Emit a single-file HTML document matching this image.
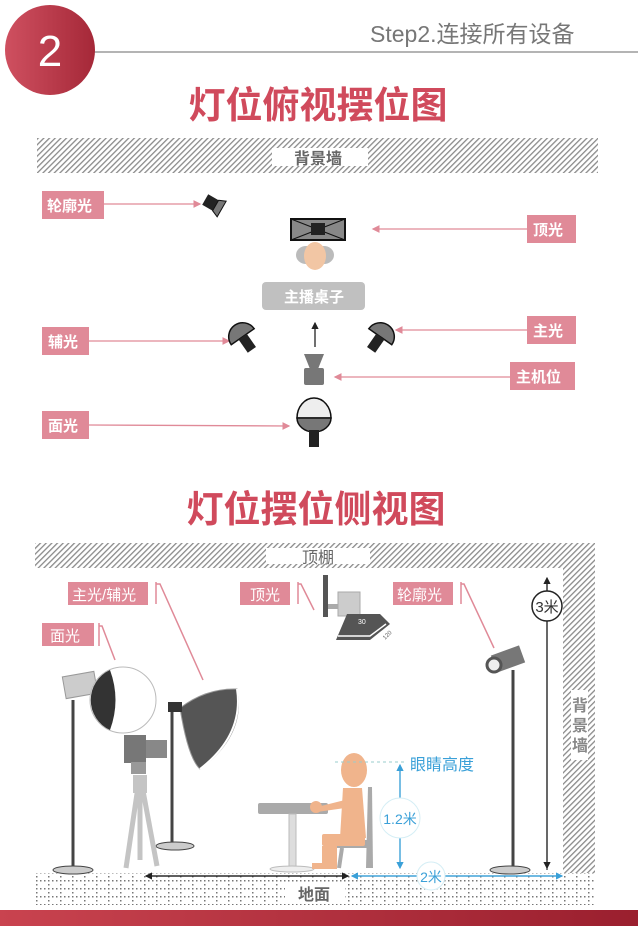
<!DOCTYPE html>
<html><head><meta charset="utf-8"><style>
html,body{margin:0;padding:0;background:#fff;}
svg{display:block;}
text{font-family:"Liberation Sans","Noto Sans CJK SC",sans-serif;}
</style></head><body>
<svg width="638" height="926" viewBox="0 0 638 926" xmlns="http://www.w3.org/2000/svg">
<defs>
<pattern id="h" width="4" height="4" patternUnits="userSpaceOnUse" patternTransform="rotate(45)">
<rect width="4" height="4" fill="#fff"/><rect width="1.3" height="4" fill="#8a8a8a"/></pattern>
<pattern id="g" width="12" height="8" patternUnits="userSpaceOnUse">
<rect width="12" height="8" fill="#fff"/><rect x="0" y="0" width="1.5" height="1.5" fill="#777"/><rect x="4" y="0" width="1.5" height="1.5" fill="#777"/><rect x="8" y="0" width="1.5" height="1.5" fill="#777"/><rect x="0" y="4" width="1.5" height="1.5" fill="#777"/></pattern>
<linearGradient id="rc" x1="0" x2="1"><stop offset="0" stop-color="#cf5060"/><stop offset="1" stop-color="#a52838"/></linearGradient>
<linearGradient id="bar" x1="0" x2="1"><stop offset="0" stop-color="#c9434f"/><stop offset="1" stop-color="#9a1f2e"/></linearGradient>
<marker id="ap" markerWidth="6" markerHeight="6" refX="5" refY="3" orient="auto"><path d="M0,0 L6,3 L0,6z" fill="#e08a98"/></marker>
<marker id="ak" markerWidth="6" markerHeight="6" refX="5" refY="3" orient="auto"><path d="M0,0 L6,3 L0,6z" fill="#222"/></marker>
<marker id="ab" markerWidth="6" markerHeight="6" refX="5" refY="3" orient="auto"><path d="M0,0 L6,3 L0,6z" fill="#3aa0d8"/></marker>
</defs>

<line x1="92" y1="52" x2="638" y2="52" stroke="#888" stroke-width="1.2"/>
<circle cx="50" cy="50" r="45" fill="url(#rc)"/>
<text x="50" y="66" font-size="44" fill="#fff" text-anchor="middle">2</text>
<text x="370" y="42" font-size="23" fill="#777">Step2.连接所有设备</text>
<text x="318" y="118" font-size="37" font-weight="bold" fill="#d04a5c" text-anchor="middle">灯位俯视摆位图</text>

<rect x="37" y="138" width="561" height="35" fill="url(#h)"/>
<rect x="272" y="148" width="96" height="18" fill="#fff"/>
<text x="318" y="164" font-size="16" font-weight="bold" fill="#666" text-anchor="middle">背景墙</text>

<g font-size="15" font-weight="bold" fill="#fff">
<rect x="42" y="191" width="62" height="28" fill="#e08a98"/><text x="47" y="211">轮廓光</text>
<rect x="527" y="215" width="49" height="28" fill="#e08a98"/><text x="533" y="235">顶光</text>
<rect x="42" y="327" width="47" height="28" fill="#e08a98"/><text x="48" y="347">辅光</text>
<rect x="527" y="316" width="49" height="28" fill="#e08a98"/><text x="533" y="336">主光</text>
<rect x="510" y="362" width="65" height="28" fill="#e08a98"/><text x="516" y="382">主机位</text>
<rect x="42" y="411" width="47" height="28" fill="#e08a98"/><text x="48" y="431">面光</text>
</g>
<g stroke="#e08a98" stroke-width="1.3" marker-end="url(#ap)">
<line x1="104" y1="204" x2="200" y2="204"/>
<line x1="527" y1="229" x2="373" y2="229"/>
<line x1="89" y1="341" x2="229" y2="341"/>
<line x1="527" y1="330" x2="396" y2="330"/>
<line x1="510" y1="377" x2="335" y2="377"/>
<line x1="89" y1="425" x2="289" y2="426"/>
</g>
<g transform="translate(213,204) rotate(30)"><rect x="-9" y="-6" width="12" height="12" fill="#222"/><path d="M3,-6 L10,-9 L10,9 L3,6z" fill="#777" stroke="#111"/></g>
<rect x="291" y="219" width="54" height="21" fill="#888" stroke="#111" stroke-width="2"/>
<path d="M291,219 L345,240 M345,219 L291,240" stroke="#111"/>
<rect x="311" y="223" width="14" height="12" fill="#222"/>
<ellipse cx="306" cy="255" rx="10" ry="9" fill="#bbb"/><ellipse cx="324" cy="255" rx="10" ry="9" fill="#bbb"/>
<ellipse cx="315" cy="256" rx="11" ry="14" fill="#f2c6a4"/>
<rect x="262" y="282" width="103" height="28" rx="4" fill="#c0c0c0"/>
<text x="314" y="302" font-size="15" font-weight="bold" fill="#fff" text-anchor="middle">主播桌子</text>
<line x1="315" y1="347" x2="315" y2="323" stroke="#111" stroke-width="1.2" marker-end="url(#ak)"/>
<g transform="translate(245,340) rotate(-35)"><path d="M-14,-4 A14,14 0 0 1 14,-4 z" fill="#777" stroke="#111" stroke-width="1.5"/><rect x="-5" y="-4" width="10" height="16" fill="#222"/></g>
<g transform="translate(378,340) rotate(35)"><path d="M-14,-4 A14,14 0 0 1 14,-4 z" fill="#777" stroke="#111" stroke-width="1.5"/><rect x="-5" y="-4" width="10" height="16" fill="#222"/></g>
<path d="M304,354 L324,354 L318,369 L310,369z" fill="#777"/>
<rect x="304" y="368" width="20" height="17" rx="2" fill="#777"/>
<path d="M297,418 A17,20 0 1 1 331,418 z" fill="#eee" stroke="#111" stroke-width="1.5"/>
<path d="M297,418 L331,418 A17,14 0 0 1 297,418z" fill="#777" stroke="#111" stroke-width="1.5"/>
<rect x="309" y="430" width="10" height="17" fill="#222"/>

<text x="316" y="522" font-size="37" font-weight="bold" fill="#d04a5c" text-anchor="middle">灯位摆位侧视图</text>

<rect x="35" y="543" width="560" height="25" fill="url(#h)"/>
<rect x="563" y="568" width="32" height="305" fill="url(#h)"/>
<rect x="266" y="548" width="104" height="16" fill="#fff"/>
<text x="318" y="563" font-size="16" fill="#666" text-anchor="middle">顶棚</text>
<rect x="571" y="690" width="17" height="70" fill="#fff"/>
<text x="580" y="711" font-size="16" font-weight="bold" fill="#888" text-anchor="middle">背</text>
<text x="580" y="731" font-size="16" font-weight="bold" fill="#888" text-anchor="middle">景</text>
<text x="580" y="751" font-size="16" font-weight="bold" fill="#888" text-anchor="middle">墙</text>
<rect x="35" y="873" width="560" height="32" fill="url(#g)"/>
<rect x="285" y="884" width="60" height="20" fill="#fff"/>
<text x="314" y="900" font-size="16" font-weight="bold" fill="#666" text-anchor="middle">地面</text>
<rect x="0" y="910" width="638" height="16" fill="url(#bar)"/>

<g font-size="15" fill="#fff">
<rect x="68" y="582" width="80" height="23" fill="#e08a98"/><text x="72" y="600">主光/辅光</text>
<rect x="240" y="582" width="50" height="23" fill="#e08a98"/><text x="250" y="600">顶光</text>
<rect x="393" y="582" width="60" height="23" fill="#e08a98"/><text x="397" y="600">轮廓光</text>
<rect x="42" y="623" width="52" height="23" fill="#e08a98"/><text x="50" y="641">面光</text>
</g>
<g stroke="#e08a98" stroke-width="1.5" fill="none">
<path d="M156,582 L156,604 M156,584 L160,584 L203,680"/>
<path d="M298,582 L298,604 M298,584 L301,584 L314,610"/>
<path d="M461,582 L461,604 M461,584 L464,584 L494,648"/>
<path d="M99,623 L99,646 M99,626 L102,626 L115,660"/>
</g>

<!-- face light -->
<line x1="73" y1="700" x2="73" y2="868" stroke="#444" stroke-width="3"/>
<ellipse cx="73" cy="870" rx="20" ry="4" fill="#ccc" stroke="#444"/>
<rect x="64" y="674" width="32" height="22" fill="#ccc" stroke="#999" transform="rotate(-10 80 685)"/>
<circle cx="123" cy="700" r="33" fill="#fff" stroke="#bbb"/>
<path d="M110,670 A33,33 0 0 0 110,730 Q121,700 110,670z" fill="#333"/>
<!-- main light -->
<line x1="172" y1="712" x2="172" y2="845" stroke="#444" stroke-width="3"/>
<ellipse cx="175" cy="846" rx="19" ry="4" fill="#ccc" stroke="#444"/>
<path d="M180,708 Q188,758 200,769 Q246,735 237,689 Q206,688 180,708z" fill="#555" stroke="#999"/>
<path d="M237,689 Q244,735 200,769" fill="none" stroke="#fff" stroke-width="2"/>
<rect x="168" y="702" width="14" height="10" fill="#333"/>
<!-- camera tripod -->
<rect x="124" y="735" width="22" height="28" fill="#777"/>
<rect x="146" y="740" width="21" height="18" fill="#888"/>
<rect x="131" y="762" width="15" height="12" fill="#999"/>
<g stroke="#c4c4c4" stroke-width="5" fill="none"><line x1="139" y1="780" x2="126" y2="868"/><line x1="140" y1="780" x2="140" y2="860"/><line x1="141" y1="780" x2="157" y2="866"/></g>
<rect x="133" y="775" width="14" height="18" fill="#c4c4c4"/>
<!-- top light -->
<rect x="323" y="575" width="5" height="42" fill="#555"/>
<rect x="328" y="604" width="12" height="5" fill="#aaa"/>
<rect x="338" y="592" width="22" height="24" fill="#ccc" stroke="#aaa"/>
<path d="M347,614 L380,614 L390,624 L370,640 L336,640z" fill="#555"/>
<path d="M338,636 L370,636 L386,624" fill="none" stroke="#fff" stroke-width="1.5"/>
<text x="358" y="624" font-size="7" fill="#fff">30</text>
<text x="385" y="640" font-size="6" fill="#666" transform="rotate(-45 385 640)">120</text>
<!-- rim light -->
<line x1="513" y1="670" x2="513" y2="868" stroke="#444" stroke-width="3"/>
<ellipse cx="510" cy="870" rx="20" ry="4" fill="#ccc" stroke="#444"/>
<rect x="493" y="650" width="30" height="18" fill="#777" transform="rotate(-20 508 659)"/>
<circle cx="494" cy="665" r="7" fill="#eee" stroke="#555" stroke-width="3"/>
<!-- 3m -->
<line x1="547" y1="870" x2="547" y2="578" stroke="#222" stroke-width="1.2" marker-end="url(#ak)"/>
<line x1="547" y1="580" x2="547" y2="868" stroke="#222" stroke-width="1.2" marker-end="url(#ak)"/>
<circle cx="547" cy="606" r="15" fill="#fff" stroke="#222" stroke-width="1.5"/>
<text x="547" y="612" font-size="15" fill="#333" text-anchor="middle">3米</text>
<!-- desk and person -->
<rect x="258" y="803" width="70" height="11" rx="2" fill="#aaa"/>
<rect x="289" y="814" width="7" height="54" fill="#ddd" stroke="#bbb"/>
<ellipse cx="292" cy="869" rx="22" ry="3" fill="#eee" stroke="#bbb"/>
<path d="M368,787 L372,787 L373,868 L366,868z" fill="#aaa"/>
<rect x="336" y="840" width="34" height="8" fill="#aaa"/>
<line x1="342" y1="848" x2="339" y2="868" stroke="#aaa" stroke-width="4"/>
<ellipse cx="354" cy="770" rx="13" ry="17" fill="#f0b48c"/>
<path d="M343,788 L362,788 L366,838 L340,838z" fill="#f0b48c"/>
<path d="M345,800 L317,807 L317,812 L345,808z" fill="#f0b48c"/>
<circle cx="316" cy="807" r="6" fill="#f0b48c"/>
<rect x="322" y="834" width="43" height="12" rx="2" fill="#f0b48c"/>
<rect x="322" y="846" width="15" height="22" fill="#f0b48c"/>
<rect x="312" y="863" width="25" height="6" fill="#f0b48c"/>
<line x1="335" y1="762" x2="404" y2="762" stroke="#9cc" stroke-dasharray="3,3"/>
<line x1="400" y1="866" x2="400" y2="765" stroke="#3aa0d8" stroke-width="1.2" marker-end="url(#ab)"/>
<line x1="400" y1="770" x2="400" y2="868" stroke="#3aa0d8" stroke-width="1.2" marker-end="url(#ab)"/>
<circle cx="400" cy="818" r="20" fill="#fff" stroke="#d5eef5"/>
<text x="400" y="824" font-size="14" fill="#3aa0d8" text-anchor="middle">1.2米</text>
<text x="410" y="770" font-size="16" fill="#3aa0d8">眼睛高度</text>
<line x1="148" y1="876" x2="348" y2="876" stroke="#222" stroke-width="1.2" marker-end="url(#ak)"/>
<line x1="348" y1="876" x2="146" y2="876" stroke="#222" stroke-width="1.2" marker-end="url(#ak)"/>
<line x1="353" y1="876" x2="562" y2="876" stroke="#3aa0d8" stroke-width="1.2" marker-end="url(#ab)"/>
<line x1="560" y1="876" x2="352" y2="876" stroke="#3aa0d8" stroke-width="1.2" marker-end="url(#ab)"/>
<circle cx="431" cy="876" r="14" fill="#fff" stroke="#d5eef5"/>
<text x="431" y="882" font-size="14" fill="#3aa0d8" text-anchor="middle">2米</text>
</svg>
</body></html>
